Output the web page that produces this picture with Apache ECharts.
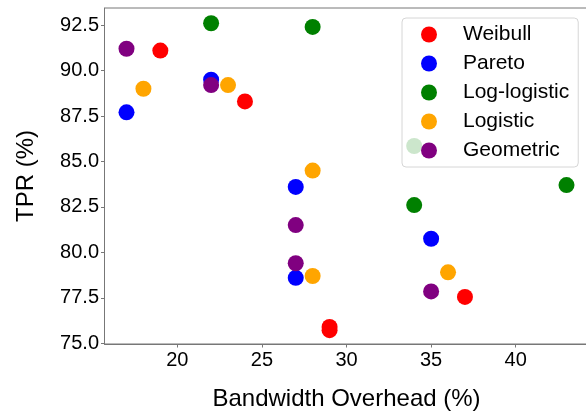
<!DOCTYPE html>
<html>
<head>
<meta charset="utf-8">
<script src="https://cdn.jsdelivr.net/npm/echarts@6/dist/echarts.min.js"></script>
<style>
  html, body { margin: 0; padding: 0; background: #fff; }
  #chart { width: 586px; height: 414px; }
</style>
</head>
<body>
<div id="chart"></div>
<script>
var seriesNames = ['Weibull', 'Pareto', 'Log-logistic', 'Logistic', 'Geometric'];
var seriesColors = ['#ff0000', '#0000ff', '#008000', '#ffa500', '#800080'];

// bandwidth overhead (%) and TPR (%) per distribution
var weibullX = [19, 24, 29, 29, 37];
var weibullY = [91.1, 88.3, 75.9, 75.72, 77.55];
var paretoX = [17, 22, 27, 27, 35];
var paretoY = [87.7, 89.5, 83.6, 78.6, 80.75];
var logLogisticX = [22, 28, 34, 34, 43];
var logLogisticY = [92.6, 92.4, 85.85, 82.6, 83.7];
var logisticX = [18, 23, 28, 28, 36];
var logisticY = [89.0, 89.2, 84.5, 78.7, 78.9];
var geometricX = [17, 22, 27, 27, 35];
var geometricY = [91.2, 89.2, 81.5, 79.4, 77.85];

var xTicks = [20, 25, 30, 35, 40];
var yTicks = [75, 77.5, 80, 82.5, 85, 87.5, 90, 92.5];

var allX = [weibullX, paretoX, logLogisticX, logisticX, geometricX];
var allY = [weibullY, paretoY, logLogisticY, logisticY, geometricY];

function pairs(xs, ys) {
  return xs.map(function (x, i) { return [x, ys[i]]; });
}

var font = 'Liberation Sans, Arial, Helvetica, sans-serif';
var spine = '#777777';

var chart = echarts.init(document.getElementById('chart'));

var option = {
  animation: false,
  backgroundColor: '#ffffff',
  grid: {
    left: 104.5,
    top: 8,
    width: 484,
    height: 336,
    outerBoundsMode: 'none',
    containLabel: false,
    show: true,
    borderColor: spine,
    borderWidth: 1,
    backgroundColor: 'transparent'
  },
  legend: {
    orient: 'vertical',
    left: 402,
    top: 18,
    padding: [6, 9, 6, 19],
    itemWidth: 16,
    itemHeight: 16,
    itemGap: 8,
    icon: 'circle',
    backgroundColor: 'rgba(255,255,255,0.8)',
    borderColor: '#d6d6d6',
    borderWidth: 1,
    borderRadius: 4,
    data: seriesNames,
    textStyle: {
      fontFamily: font,
      fontSize: 21,
      lineHeight: 20,
      color: '#000',
      padding: [0, 0, 0, 21]
    }
  },
  xAxis: {
    type: 'value',
    min: 15.7,
    max: 44.3,
    name: 'Bandwidth Overhead (%)',
    nameLocation: 'middle',
    nameGap: 43,
    nameTextStyle: { fontFamily: font, fontSize: 24, color: '#000' },
    splitLine: { show: false },
    axisLine: { show: true, lineStyle: { color: spine, width: 1 } },
    axisTick: { show: true, length: 3.5, customValues: xTicks, lineStyle: { color: spine } },
    axisLabel: {
      customValues: xTicks,
      fontFamily: font,
      fontSize: 20,
      color: '#000',
      margin: 6.5
    }
  },
  yAxis: {
    type: 'value',
    min: 74.96,
    max: 93.44,
    name: 'TPR (%)',
    nameLocation: 'middle',
    nameGap: 66,
    nameTextStyle: { fontFamily: font, fontSize: 24, color: '#000' },
    splitLine: { show: false },
    axisLine: { show: true, lineStyle: { color: spine, width: 1 } },
    axisTick: { show: true, length: 3.5, customValues: yTicks, lineStyle: { color: spine } },
    axisLabel: {
      customValues: yTicks,
      fontFamily: font,
      fontSize: 20,
      color: '#000',
      margin: 5.5,
      formatter: function (v) { return v.toFixed(1); }
    }
  },
  series: seriesNames.map(function (name, i) {
    return {
      name: name,
      type: 'scatter',
      symbol: 'circle',
      symbolSize: 16,
      itemStyle: { color: seriesColors[i], opacity: 1 },
      emphasis: { disabled: true },
      data: pairs(allX[i], allY[i])
    };
  })
};

chart.setOption(option);
</script>
</body>
</html>
